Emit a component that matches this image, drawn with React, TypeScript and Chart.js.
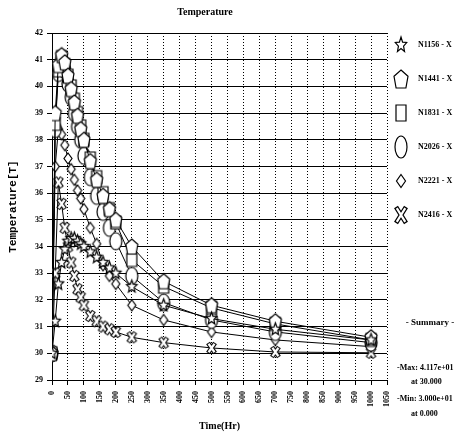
import React, { useEffect, useRef } from "react";
import { Chart, registerables } from "chart.js";

Chart.register(...registerables);

// ---- data ----
const times = [0, 10, 20, 30, 40, 50, 60, 70, 80, 90, 100, 120, 140, 160, 180, 200, 250, 350, 500, 700, 1000];
const n1156 = [30, 31.2, 32.6, 33.4, 33.9, 34.2, 34.3, 34.3, 34.2, 34.1, 34.0, 33.8, 33.6, 33.4, 33.2, 33.0, 32.5, 31.8, 31.3, 30.9, 30.5];
const n1441 = [30, 39.0, 40.8, 41.17, 40.9, 40.4, 39.9, 39.4, 38.9, 38.4, 38.0, 37.2, 36.5, 35.9, 35.4, 35.0, 34.0, 32.7, 31.8, 31.2, 30.6];
const n1831 = [30, 38.6, 40.6, 41.1, 40.8, 40.4, 40.0, 39.5, 39.0, 38.5, 38.0, 37.3, 36.6, 36.0, 35.4, 34.9, 33.5, 32.5, 31.7, 31.1, 30.5];
const n2026 = [30, 38.4, 40.5, 41.0, 40.6, 40.1, 39.6, 39.0, 38.5, 38.0, 37.4, 36.6, 35.9, 35.3, 34.7, 34.2, 32.9, 31.9, 31.25, 30.8, 30.4];
const n2221 = [30, 37.0, 38.4, 38.2, 37.8, 37.3, 36.9, 36.5, 36.1, 35.8, 35.4, 34.7, 34.1, 33.3, 32.9, 32.6, 31.8, 31.25, 30.8, 30.5, 30.25];
const n2416 = [30, 33.0, 36.4, 35.6, 34.7, 34.0, 33.4, 32.9, 32.4, 32.1, 31.8, 31.4, 31.2, 31.0, 30.9, 30.8, 30.6, 30.4, 30.2, 30.05, 30.02];
const seriesNames = ["N1156 - X", "N1441 - X", "N1831 - X", "N2026 - X", "N2221 - X", "N2416 - X"];
const summaryLines = ["- Summary -", "-Max: 4.117e+01", "at 30.000", "-Min: 3.000e+01", "at 0.000"];
const chartTitle = "Temperature";
const xTitle = "Time(Hr)";
const yTitle = "Temperature[T]";

type Kind = "star" | "pent" | "rect" | "ellipse" | "diamond" | "xcross";
const kinds: Kind[] = ["star", "pent", "rect", "ellipse", "diamond", "xcross"];
const plotSizes: [number, number][] = [[11, 13], [12, 15], [10, 13], [12, 17], [8, 11], [11, 14]];
const legendSizes: [number, number][] = [[12, 16], [14, 18], [10, 16], [12, 22], [9, 13], [14, 20]];

function drawShape(ctx: CanvasRenderingContext2D, kind: Kind, cx: number, cy: number, w: number, h: number) {
  ctx.save();
  ctx.lineWidth = 1.2;
  ctx.strokeStyle = "#000";
  ctx.fillStyle = "#fff";
  const rx = w / 2, ry = h / 2;
  if (kind === "xcross") {
    const dx = rx - 2, dy = ry - 2;
    ctx.lineCap = "butt";
    ctx.beginPath();
    ctx.moveTo(cx - dx, cy - dy); ctx.lineTo(cx + dx, cy + dy);
    ctx.moveTo(cx + dx, cy - dy); ctx.lineTo(cx - dx, cy + dy);
    ctx.lineWidth = 4.6; ctx.strokeStyle = "#000"; ctx.stroke();
    const ex = dx * 0.85, ey = dy * 0.85;
    ctx.beginPath();
    ctx.moveTo(cx - ex, cy - ey); ctx.lineTo(cx + ex, cy + ey);
    ctx.moveTo(cx + ex, cy - ey); ctx.lineTo(cx - ex, cy + ey);
    ctx.lineWidth = 2.2; ctx.strokeStyle = "#fff"; ctx.stroke();
    ctx.restore();
    return;
  }
  ctx.beginPath();
  if (kind === "star") {
    for (let i = 0; i < 10; i++) {
      const a = -Math.PI / 2 + (i * Math.PI) / 5;
      const f = i % 2 === 0 ? 1 : 0.45;
      const px = cx + Math.cos(a) * rx * f, py = cy + Math.sin(a) * ry * f;
      if (i === 0) ctx.moveTo(px, py); else ctx.lineTo(px, py);
    }
    ctx.closePath();
  } else if (kind === "pent") {
    ctx.moveTo(cx, cy - ry);
    ctx.lineTo(cx + rx, cy - ry * 0.3);
    ctx.lineTo(cx + rx * 0.7, cy + ry);
    ctx.lineTo(cx - rx * 0.7, cy + ry);
    ctx.lineTo(cx - rx, cy - ry * 0.3);
    ctx.closePath();
  } else if (kind === "rect") {
    ctx.rect(cx - rx, cy - ry, w, h);
  } else if (kind === "ellipse") {
    ctx.ellipse(cx, cy, rx, ry, 0, 0, Math.PI * 2);
  } else if (kind === "diamond") {
    ctx.moveTo(cx, cy - ry);
    ctx.lineTo(cx + rx, cy);
    ctx.lineTo(cx, cy + ry);
    ctx.lineTo(cx - rx, cy);
    ctx.closePath();
  }
  ctx.fill();
  ctx.stroke();
  ctx.restore();
}

function makeMarker(kind: Kind, w: number, h: number): HTMLCanvasElement {
  const c = document.createElement("canvas");
  c.width = w + 4;
  c.height = h + 4;
  const ctx = c.getContext("2d")!;
  drawShape(ctx, kind, c.width / 2, c.height / 2, w, h);
  return c;
}

const textPlugin = {
  id: "extraText",
  afterDraw(chart: any) {
    const ctx: CanvasRenderingContext2D = chart.ctx;
    ctx.save();
    ctx.fillStyle = "#000";
    ctx.textBaseline = "middle";
    ctx.font = 'bold 10px "Liberation Serif"';
    ctx.textAlign = "center";
    ctx.fillText(chartTitle, 205, 12);
    // legend
    const legY = [45, 79, 113, 147, 181, 215];
    ctx.font = 'bold 8px "Liberation Serif"';
    ctx.textAlign = "left";
    kinds.forEach((k, i) => {
      const [w, h] = legendSizes[i];
      drawShape(ctx, k, 401, legY[i], w, h);
      ctx.fillStyle = "#000";
      ctx.fillText(seriesNames[i], 418, legY[i]);
    });
    // summary
    ctx.font = 'bold 9px "Liberation Serif"';
    ctx.textAlign = "center";
    ctx.fillText(summaryLines[0], 430, 323);
    ctx.font = 'bold 8px "Liberation Serif"';
    ctx.textAlign = "left";
    ctx.fillText(summaryLines[1], 397, 368);
    ctx.fillText(summaryLines[2], 411, 382);
    ctx.fillText(summaryLines[3], 397, 399);
    ctx.fillText(summaryLines[4], 411, 414);
    ctx.restore();
  },
};

export default function App() {
  const ref = useRef<HTMLCanvasElement | null>(null);
  useEffect(() => {
    if (!ref.current) return;
    const all = [n1156, n1441, n1831, n2026, n2221, n2416];
    const datasets = all.map((vals, i) => ({
      label: seriesNames[i],
      data: times.map((t, j) => ({ x: t, y: vals[j] })),
      borderColor: "#000",
      backgroundColor: "#fff",
      borderWidth: 1,
      pointStyle: makeMarker(kinds[i], plotSizes[i][0], plotSizes[i][1]),
      pointRadius: 6,
      tension: 0,
      fill: false,
    }));
    const tickFont = { family: "Liberation Serif", size: 8, weight: "bold" as const };
    const chart = new Chart(ref.current, {
      type: "line",
      data: { datasets },
      options: {
        responsive: false,
        animation: false,
        devicePixelRatio: 1,
        layout: { padding: { left: 0, right: 76, top: 33, bottom: 0 } },
        plugins: { legend: { display: false }, title: { display: false }, tooltip: { enabled: false } },
        scales: {
          x: {
            type: "linear",
            min: 0,
            max: 1050,
            afterFit: (s: any) => { s.height = 64; },
            ticks: {
              stepSize: 50, autoSkip: false, minRotation: 90, maxRotation: 90, color: "#000", font: tickFont, padding: 6,
              callback: (v: any) => String(v),
            },
            grid: { color: "#000", lineWidth: 1, tickLength: 5 },
            border: { display: true, color: "#000", width: 1, dash: [1, 2] },
            title: { display: true, text: xTitle, color: "#000", font: { family: "Liberation Serif", size: 10, weight: "bold" }, padding: { top: 0, bottom: 12 } },
          },
          y: {
            min: 29,
            max: 42,
            afterFit: (s: any) => { s.width = 52; },
            ticks: { stepSize: 1, color: "#000", font: tickFont, padding: 4, callback: (v: any) => String(v) },
            grid: { color: "#000", lineWidth: 1, tickLength: 5 },
            border: { display: true, color: "#000", width: 1 },
            title: { display: true, text: yTitle, color: "#000", font: { family: "Liberation Mono", size: 11, weight: "bold" }, padding: { top: 7, bottom: 0 } },
          },
        },
      },
      plugins: [textPlugin],
    } as any);
    return () => chart.destroy();
  }, []);
  return (
    <div style={{ position: "absolute", left: 0, top: 0, width: 463, height: 444, background: "#fff" }}>
      <canvas ref={ref} width={463} height={444} style={{ width: 463, height: 444, display: "block" }} />
    </div>
  );
}
